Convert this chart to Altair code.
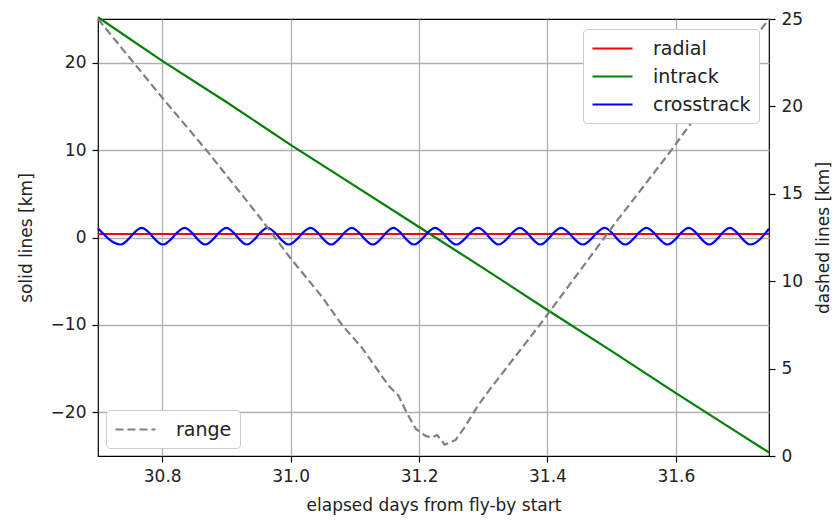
import altair as alt
import pandas as pd

# ---------------- data ----------------
series_names = ["radial", "intrack", "crosstrack"]
series_colors = ["#ff0000", "#008000", "#0000ff"]

radial_days = [30.700, 31.745]
radial_km = [0.4, 0.4]

intrack_days = [30.70, 30.80, 30.90, 31.00, 31.10, 31.20, 31.30, 31.40, 31.50, 31.60, 31.70, 31.745]
intrack_km = [25.2, 20.2, 15.5, 10.6, 5.9, 1.2, -3.5, -8.3, -13.0, -17.8, -22.5, -24.6]

crosstrack_days = [30.700, 30.735, 30.768, 30.801, 30.835, 30.867, 30.900, 30.932,
                   30.964, 30.997, 31.031, 31.063, 31.095, 31.128, 31.160, 31.192,
                   31.225, 31.258, 31.292, 31.324, 31.357, 31.389, 31.421, 31.455,
                   31.489, 31.521, 31.554, 31.587, 31.620, 31.652, 31.684, 31.716,
                   31.745]
crosstrack_km = [1.05, -0.8, 1.1, -0.8, 1.1, -0.8, 1.1, -0.8,
                 1.1, -0.8, 1.1, -0.8, 1.1, -0.8, 1.1, -0.8,
                 1.1, -0.8, 1.1, -0.8, 1.1, -0.8, 1.1, -0.8,
                 1.1, -0.8, 1.1, -0.8, 1.1, -0.8, 1.1, -0.8,
                 1.0]

range_days = [30.700, 30.800, 30.871, 30.951, 30.998, 31.049, 31.080, 31.111,
              31.153, 31.168, 31.181, 31.195, 31.210, 31.220, 31.228, 31.240,
              31.250, 31.257, 31.272, 31.292, 31.310, 31.390, 31.505, 31.591,
              31.680, 31.745]
range_km = [25.0, 20.5, 17.4, 13.7, 11.4, 9.1, 7.5, 6.2,
            4.0, 3.45, 2.46, 1.55, 1.15, 1.05, 1.2, 0.65,
            0.8, 0.92, 1.7, 2.9, 3.8, 7.6, 13.3, 17.4,
            21.9, 25.0]
range_name = ["range"]

x_domain = [30.70, 31.745]
x_ticks = [30.8, 31.0, 31.2, 31.4, 31.6]
left_domain = [-25, 25]
left_ticks = [-20, -10, 0, 10, 20]
right_domain = [0, 25]
right_ticks = [0, 5, 10, 15, 20, 25]

FONT = "DejaVu Sans"
FS = 17
LINE_SYMBOL = "M-1,0H3"

# ---------------- tables ----------------
def table(days, vals, name):
    return pd.DataFrame({"day": days, "km": vals, "series": [name] * len(days)})

df_radial = table(radial_days, radial_km, series_names[0])
df_intrack = table(intrack_days, intrack_km, series_names[1])
df_cross = table(crosstrack_days, crosstrack_km, series_names[2])
df_range = pd.DataFrame({"day": range_days, "km": range_km, "kind": range_name * len(range_days)})

x_enc = alt.X(
    "day:Q",
    scale=alt.Scale(domain=x_domain, nice=False, zero=False),
    axis=alt.Axis(values=x_ticks, format=".1f", title="elapsed days from fly-by start",
                  grid=True, titleY=49, titleBaseline="middle"),
)
y_left = alt.Y(
    "km:Q",
    scale=alt.Scale(domain=left_domain, nice=False, zero=False),
    axis=alt.Axis(orient="left", values=left_ticks, format="d", title="solid lines [km]",
                  grid=True, titleX=-72, titleBaseline="middle", titleAngle=270),
)
color_enc = alt.Color(
    "series:N",
    scale=alt.Scale(domain=series_names, range=series_colors),
    legend=alt.Legend(
        title=None, orient="top-right", offset=10, symbolType=LINE_SYMBOL,
        symbolSize=400, symbolStrokeWidth=2.2, labelFontSize=19, labelFont=FONT,
        labelColor="#222222", labelOffset=39, rowPadding=6, padding=8,
        strokeColor="#cccccc", fillColor="white", cornerRadius=4,
    ),
)

def solid(df, interp="linear"):
    return alt.Chart(df).mark_line(strokeWidth=2.2, interpolate=interp).encode(
        x=x_enc, y=y_left, color=color_enc
    )

left = alt.layer(solid(df_radial), solid(df_intrack), solid(df_cross, "monotone"))

right = alt.Chart(df_range).mark_line(strokeWidth=2.2, color="#808080").encode(
    x=x_enc,
    y=alt.Y(
        "km:Q",
        scale=alt.Scale(domain=right_domain, nice=False, zero=False),
        axis=alt.Axis(orient="right", values=right_ticks, format="d", title="dashed lines [km]",
                      grid=False, titleX=54, titleBaseline="middle", titleAngle=270),
    ),
    strokeDash=alt.StrokeDash(
        "kind:N",
        scale=alt.Scale(domain=range_name, range=[[8, 4]]),
        legend=alt.Legend(
            title=None, orient="bottom-left", offset=8, symbolType=LINE_SYMBOL,
            symbolSize=400, symbolStrokeWidth=2.2, symbolStrokeColor="#808080",
            labelFontSize=19, labelFont=FONT, labelColor="#222222", labelOffset=39,
            padding=8, strokeColor="#cccccc", fillColor="white", cornerRadius=4,
        ),
    ),
)

chart = (
    alt.layer(left, right)
    .resolve_scale(y="independent")
    .properties(
        width=671, height=437,
        autosize=alt.AutoSizeParams(type="none"),
        padding={"left": 98, "top": 19, "right": 68, "bottom": 64},
        background="white",
    )
    .configure_view(stroke="black", strokeWidth=1.2)
    .configure_axis(
        labelFont=FONT, labelFontSize=FS, labelColor="#222222",
        titleFont=FONT, titleFontSize=FS, titleFontWeight="normal", titleColor="#222222",
        domain=False, tickColor="black", tickWidth=1.2, tickSize=6, labelPadding=6,
        gridColor="#b0b0b0", gridWidth=1.3,
    )
)

chart.save("out.html", embed_options={"renderer": "svg", "actions": False})
